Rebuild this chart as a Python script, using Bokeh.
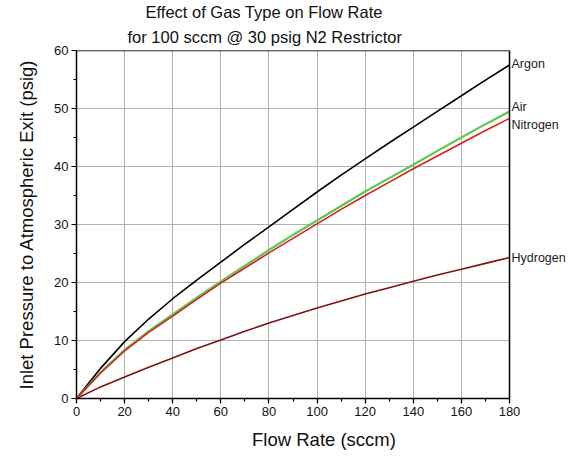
from bokeh.plotting import figure
from bokeh.models import FixedTicker, Range1d, Title
from bokeh.core.properties import value
from bokeh.embed import file_html
from bokeh.resources import INLINE

flow = [0, 10, 20, 30, 40, 50, 60, 70, 80, 90, 100, 110, 120, 130, 140, 150, 160, 170, 180]
argon = [0, 5.2, 9.8, 13.7, 17.2, 20.4, 23.5, 26.6, 29.6, 32.6, 35.6, 38.5, 41.3, 44.1, 46.8, 49.5, 52.2, 54.9, 57.5]
air = [0, 4.5, 8.4, 11.6, 14.5, 17.4, 20.2, 22.9, 25.6, 28.2, 30.7, 33.2, 35.7, 38.0, 40.3, 42.7, 45.0, 47.3, 49.5]
nitrogen = [0, 4.4, 8.2, 11.4, 14.2, 17.1, 19.9, 22.5, 25.1, 27.6, 30.1, 32.6, 35.0, 37.3, 39.6, 41.8, 44.0, 46.2, 48.3]
hydrogen = [0, 2.0, 3.7, 5.4, 7.0, 8.6, 10.1, 11.6, 13.0, 14.3, 15.6, 16.8, 18.0, 19.1, 20.2, 21.3, 22.3, 23.3, 24.3]

series_names = ["Argon", "Air", "Nitrogen", "Hydrogen"]
x_ticks = [0, 20, 40, 60, 80, 100, 120, 140, 160, 180]
y_ticks = [0, 10, 20, 30, 40, 50, 60]
x_max = 180
y_max = 60

FONT = "Liberation Sans"

# frame extended to the right so the end labels can be drawn inside it
p = figure(width=575, height=456, output_backend="svg", toolbar_location=None,
           x_range=Range1d(0, 205.77), y_range=Range1d(0, 60),
           min_border_left=76, min_border_right=4, min_border_top=50, min_border_bottom=58)
p.outline_line_color = None

t2 = Title(text="for 100 sccm @ 30 psig N2 Restrictor", align="left", offset=51,
           text_font=FONT, text_font_size="16.5px", text_font_style="normal",
           text_color="#111111", standoff=9)
t1 = Title(text="Effect of Gas Type on Flow Rate", align="left", offset=69,
           text_font=FONT, text_font_size="16.5px", text_font_style="normal",
           text_color="#111111", standoff=1)
p.add_layout(t2, "above")
p.add_layout(t1, "above")

for ax in (p.xaxis[0], p.yaxis[0]):
    ax.axis_line_width = 1.5
    ax.axis_line_color = "black"
    ax.major_tick_out = 5
    ax.major_tick_in = 0
    ax.minor_tick_out = 3
    ax.minor_tick_in = 0
    ax.major_tick_line_width = 1.2
    ax.minor_tick_line_width = 1.2
    ax.major_label_standoff = 3
    ax.major_label_text_font = FONT
    ax.major_label_text_font_size = "13px"
    ax.major_label_text_color = "#111111"
    ax.axis_label_text_font = FONT
    ax.axis_label_text_font_size = "18.5px"
    ax.axis_label_text_font_style = "normal"
    ax.axis_label_text_color = "#111111"

p.xaxis.bounds = (0, x_max)
p.xaxis.ticker = FixedTicker(ticks=x_ticks, minor_ticks=list(range(0, 181, 10)))
p.yaxis.ticker = FixedTicker(ticks=y_ticks, minor_ticks=list(range(0, 61, 5)))
p.xaxis.axis_label = "Flow Rate (sccm)"
p.yaxis.axis_label = "Inlet Pressure to Atmospheric Exit (psig)"
p.yaxis.axis_label_standoff = 14
p.xaxis.axis_label_standoff = 10

GRID = "#b0b0b0"
p.xgrid.grid_line_color = GRID
p.xgrid.grid_line_width = 1
p.ygrid.grid_line_color = None
# horizontal grid lines limited to the data area
p.segment(x0=[0] * len(y_ticks), x1=[x_max] * len(y_ticks), y0=y_ticks, y1=y_ticks,
          line_color=GRID, line_width=1)

p.line(flow, hydrogen, line_color="#7a1414", line_width=1.6)
p.line(flow, argon, line_color="black", line_width=1.6)
p.line(flow, air, line_color="#5cc850", line_width=2.2)
p.line(flow, nitrogen, line_color="#d42020", line_width=1.6)

# frame border (top and right)
p.segment(x0=[0, x_max], x1=[x_max, x_max], y0=[y_max, 0], y1=[y_max, y_max],
          line_color="black", line_width=1.5)

ends = [argon[-1], air[-1], nitrogen[-1], hydrogen[-1]]
p.text(x=[x_max] * 4, y=ends, text=series_names, x_offset=2, y_offset=[-1, -4, 7, 0],
       text_font=value(FONT), text_baseline="middle",
       text_font_size="12.5px", text_color="#222222")

open("out.html", "w").write(file_html(p, INLINE))
